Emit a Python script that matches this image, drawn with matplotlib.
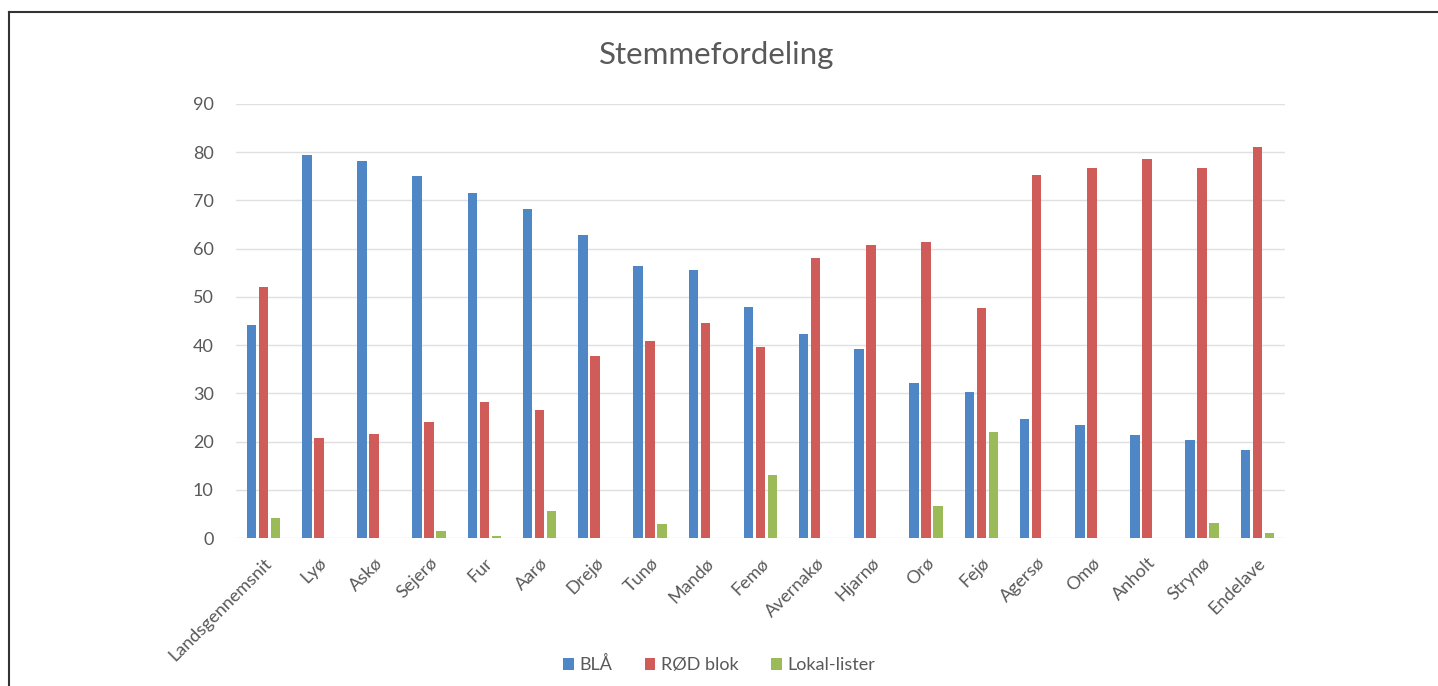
import matplotlib
matplotlib.use("Agg")
import matplotlib.pyplot as plt
from matplotlib.lines import Line2D
import numpy as np

plt.rcParams["font.family"] = ["Lato", "DejaVu Sans"]

CATEGORIES = ["Landsgennemsnit", "Lyø", "Askø", "Sejerø", "Fur", "Aarø", "Drejø",
              "Tunø", "Mandø", "Femø", "Avernakø", "Hjarnø", "Orø", "Fejø",
              "Agersø", "Omø", "Anholt", "Strynø", "Endelave"]
BLAA = [44.2, 79.5, 78.2, 75.0, 71.5, 68.2, 62.8, 56.5, 55.5, 48.0,
        42.3, 39.3, 32.1, 30.2, 24.6, 23.4, 21.4, 20.3, 18.3]
ROED = [52.0, 20.7, 21.5, 24.1, 28.3, 26.6, 37.8, 40.8, 44.5, 39.6,
        58.0, 60.8, 61.3, 47.8, 75.2, 76.7, 78.5, 76.7, 81.1]
LOKAL = [4.1, 0, 0, 1.4, 0.4, 5.6, 0, 2.9, 0, 13.1,
         0, 0, 6.6, 21.9, 0, 0, 0, 3.2, 1.1]
SERIES_NAMES = ["BLÅ", "RØD blok", "Lokal-lister"]
Y_TICKS = [0, 10, 20, 30, 40, 50, 60, 70, 80, 90]

COLORS = ["#4f86c6", "#cf5c58", "#9bbb59"]
TEXT_GREY = "#595959"

fig = plt.figure(figsize=(14.38, 6.86), dpi=100)
ax = fig.add_axes([0.1641, 0.2157, 0.7295, 0.6327])

x = np.arange(len(CATEGORIES))
step = 0.217
width = 0.172
for k, (vals, name) in enumerate(zip([BLAA, ROED, LOKAL], SERIES_NAMES)):
    ax.bar(x + (k - 1) * step, vals, width=width, color=COLORS[k], label=name, zorder=3)

ax.set_xlim(-0.5, len(CATEGORIES) - 0.5)
ax.set_ylim(0, 90)
ax.set_yticks(Y_TICKS)
ax.set_xticks(x)
ax.set_xticklabels(CATEGORIES, rotation=45, ha="right", rotation_mode="anchor")
ax.tick_params(axis="both", length=0, labelsize=13, colors=TEXT_GREY)
ax.tick_params(axis="y", pad=16)
ax.tick_params(axis="x", pad=12)
ax.grid(axis="y", color="#e0e0e0", linewidth=1.0, zorder=0)
for s in ax.spines.values():
    s.set_visible(False)

fig.text(717 / 1438, 1 - 55 / 686, "Stemmefordeling", fontsize=22.5, color=TEXT_GREY,
         ha="center", va="center")

fig.legend(loc="lower center", bbox_to_anchor=(0.5, -0.005), ncol=3, frameon=False,
           fontsize=13, handlelength=0.6, handleheight=0.6, handletextpad=0.3,
           columnspacing=1.8, labelcolor=TEXT_GREY)

# frame lines (top and left)
fig.add_artist(Line2D([9 / 1438, 9 / 1438], [0, 1 - 12 / 686], transform=fig.transFigure,
                      color="#333333", linewidth=1.5))
fig.add_artist(Line2D([9 / 1438, 1], [1 - 12 / 686, 1 - 12 / 686], transform=fig.transFigure,
                      color="#333333", linewidth=1.5))

fig.savefig("out.png", dpi=100)
